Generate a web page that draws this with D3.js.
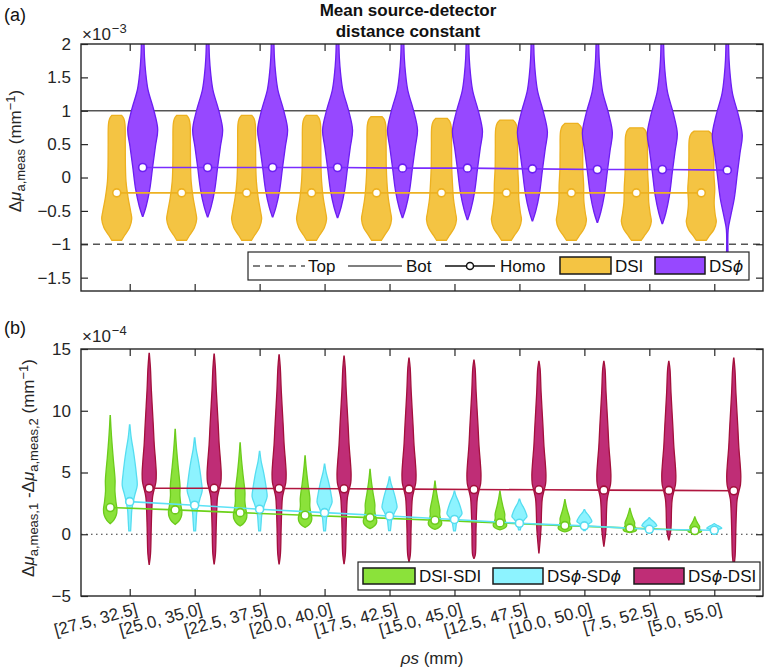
<!DOCTYPE html>
<html><head><meta charset="utf-8">
<script src="https://cdn.jsdelivr.net/npm/d3@7"></script>
<style>
body{margin:0;background:#fff;}
svg{display:block;font-family:"Liberation Sans",Arial,Helvetica,sans-serif;}
</style></head><body>
<svg id="chart" width="768" height="671"></svg>
<script>
// ---------------- DATA ----------------
const categories = ["[27.5, 32.5]","[25.0, 35.0]","[22.5, 37.5]","[20.0, 40.0]","[17.5, 42.5]",
                    "[15.0, 45.0]","[12.5, 47.5]","[10.0, 50.0]","[7.5, 52.5]","[5.0, 55.0]"];
const topTicks = [-1.5,-1,-0.5,0,0.5,1,1.5,2];      // x10^-3
const botTicks = [-5,0,5,10,15];                    // x10^-4
const topRef = 1, botRef = -1;                      // "Bot" solid / "Top" dashed

// Panel (a) — DSI (x10^-3 mm^-1)
const dsiLo   = [-0.94,-0.94,-0.94,-0.94,-0.94,-0.94,-0.94,-0.94,-0.94,-0.94];
const dsiHi   = [0.93,0.93,0.93,0.93,0.91,0.885,0.86,0.81,0.745,0.695];
const dsiMed  = [-0.23,-0.23,-0.23,-0.23,-0.23,-0.23,-0.23,-0.23,-0.23,-0.23];
const dsiBody = [1,1.02,1.05,1.08,1.12,1.18,1.3,1.32,1.3,1.45];
// Panel (a) — DSphi
const dspLo   = [-0.58,-0.59,-0.59,-0.6,-0.6,-0.63,-0.65,-0.67,-0.69,-0.73];
const dspHi   = [2.6,2.6,2.6,2.6,2.6,2.6,2.6,2.6,2.6,2.6];
const dspMed  = [0.15,0.15,0.15,0.15,0.14,0.14,0.13,0.12,0.12,0.11];
const dspTail = [null,null,null,null,null,null,null,null,null,-1.2];

// Panel (b) (x10^-4 mm^-1)
const grnLo  = [0.86,0.8,0.67,0.55,0.46,0.4,0.35,0.2,0.13,0.08];
const grnHi  = [9.6,8.5,7.4,6.35,5.25,4.3,3.5,2.8,2.1,1.4];
const grnMed = [2.16,1.97,1.75,1.54,1.35,1.13,0.92,0.7,0.5,0.3];
const cyaLo  = [0.27,0.27,0.27,0.27,0.3,0.27,0.35,0.3,0.2,0.2];
const cyaHi  = [8.85,7.8,6.7,5.67,4.64,3.5,2.85,2.0,1.35,0.86];
const cyaMed = [2.64,2.35,2.03,1.75,1.48,1.2,0.89,0.68,0.4,0.32];
const redLo  = [-2.43,-2.4,-2.4,-2.38,-2.2,-1.95,-1.5,-0.95,-0.46,-2.6];
const redHi  = [14.65,14.59,14.53,14.42,14.26,14.1,13.99,13.99,13.99,14.26];
const redMed = [3.73,3.72,3.7,3.68,3.65,3.62,3.6,3.57,3.55,3.52];

// Density shape templates: [relative position, relative density]
const dsiShape = [[0,.33],[.04,.53],[.1,.85],[.17,1],[.23,.93],[.34,.76],[.47,.62],[.6,.58],[.77,.57],[.93,.55],[.975,.47],[1,.33]];
const dspShape = [[0,.02],[.047,.23],[.126,.47],[.236,.67],[.33,.85],[.409,1],[.497,.75],[.597,.35],[.676,.2],[.748,.12],[.811,.09],[1,.04]];
const grnShape = [[0,0],[.03,.5],[.08,.9],[.13,1],[.2,.85],[.3,.7],[.4,.72],[.5,.6],[.6,.45],[.7,.32],[.8,.2],[.9,.1],[1,.02]];
const cyaShape = [[0,.12],[.1,.2],[.19,.27],[.25,.4],[.3,.55],[.35,.72],[.43,1],[.535,.89],[.65,.7],[.755,.49],[.88,.2],[1,.03]];
const redShape = [[-7,.02],[-6.2,.05],[-5.3,.19],[-3.2,.29],[-1.6,.38],[-0.7,.48],[0,.75],[0.5,.95],[1.2,1],[2.2,.9],[3.5,.72],[5.2,.57],[7.9,.31],[9.8,.17],[10.9,.06],[11.5,.02]];

// ---------------- STYLE ----------------
const C = {
  dsi:{fill:"#F4C443",stroke:"#EDB120",line:"#EDB120"},
  dsp:{fill:"#9748FF",stroke:"#6B1EF2",line:"#7A2CFF"},
  grn:{fill:"#8BE23A",stroke:"#6CCB1C",line:"#6CD21A"},
  cya:{fill:"#8DF3FF",stroke:"#55DDF0",line:"#5CE2F6"},
  red:{fill:"#BF2D76",stroke:"#A3103C",line:"#B0163F"}
};
const FONT = 17;
const svg = d3.select("#chart");
const L = 81, R = 763;
const x = d3.scaleLinear().domain([0.25,10.75]).range([L,R]);
const wScale = d3.scaleLinear().domain([0,1]).range([0,15]);
const idx = d3.range(1, categories.length+1);

const yA = d3.scaleLinear().domain([-1.7,2]).range([291,44]);
const yB = d3.scaleLinear().domain([-5,15]).range([596,349]);

function fmt(v){ return (v<0?"\u2212":"") + String(Math.abs(v)); }

function frame(y, top, bottom, clipId){
  const g = svg.append("g");
  svg.append("clipPath").attr("id",clipId).append("rect")
    .attr("x",L).attr("y",top).attr("width",R-L).attr("height",bottom-top);
  return g;
}

function axes(y, ticks, top, bottom, withLabels){
  const ax = svg.append("g").attr("class","axes");
  const left = d3.axisLeft(y).tickValues(ticks).tickSizeInner(-7).tickSizeOuter(0).tickPadding(10).tickFormat(fmt);
  const right = d3.axisRight(y).tickValues(ticks).tickSizeInner(-7).tickSizeOuter(0).tickFormat("");
  const topAx = d3.axisTop(x).tickValues(idx).tickSizeInner(-7).tickSizeOuter(0).tickFormat("");
  const botAx = d3.axisBottom(x).tickValues(idx).tickSizeInner(-7).tickSizeOuter(0)
      .tickFormat(withLabels ? (d=>categories[d-1]) : "");
  const gl = ax.append("g").attr("transform",`translate(${L},0)`).call(left);
  ax.append("g").attr("transform",`translate(${R},0)`).call(right);
  ax.append("g").attr("transform",`translate(0,${top})`).call(topAx);
  const gb = ax.append("g").attr("transform",`translate(0,${bottom})`).call(botAx);
  ax.selectAll(".domain").remove();
  ax.selectAll(".tick line").attr("stroke","#262626").attr("stroke-width",1.2);
  gl.selectAll("text").attr("font-size",FONT).attr("fill","#262626").attr("font-family","Liberation Sans, Arial, sans-serif");
  if(withLabels){
    gb.selectAll("text").attr("y",null).attr("dy",null)
      .attr("font-size",FONT).attr("fill","#262626").attr("font-family","Liberation Sans, Arial, sans-serif")
      .attr("text-anchor","end").attr("transform","translate(8,18) rotate(-15)");
  }
  ax.append("rect").attr("x",L).attr("y",top).attr("width",R-L).attr("height",bottom-top)
    .attr("fill","none").attr("stroke","#262626").attr("stroke-width",1.4);
}

function smooth(t,a,b){ const u=Math.max(0,Math.min(1,(t-a)/(b-a))); return u*u*(3-2*u); }

function normProfile(shape, lo, hi, peak, body){
  return shape.map(([t,w]) => {
    const f = body ? 1 + (body-1)*smooth(t,.28,.45) : 1;
    return {v: lo + t*(hi-lo), w: w*peak*f};
  });
}
function offsetProfile(shape, med, lo, hi, peak){
  const pts = [{v:lo, w:0.02*peak}];
  shape.forEach(([o,w]) => { const v = med+o; if(v>lo+0.15 && v<hi-0.15) pts.push({v, w:w*peak}); });
  pts.push({v:hi, w:0.02*peak});
  return pts;
}

function drawViolin(g, y, pts, cx, col, clipId){
  const area = d3.area().curve(d3.curveCatmullRom.alpha(0.5))
    .y(d=>y(d.v)).x0(d=>cx-wScale(d.w)).x1(d=>cx+wScale(d.w));
  g.append("path").attr("d",area(pts)).attr("fill",col.fill).attr("stroke",col.stroke)
    .attr("stroke-width",1.3).attr("clip-path",`url(#${clipId})`);
}

function drawMedians(g, y, meds, off, col){
  const line = d3.line().x((d,i)=>x(i+1+off)).y(d=>y(d));
  g.append("path").attr("d",line(meds)).attr("fill","none").attr("stroke",col.line).attr("stroke-width",1.6);
}
function drawDots(g, y, meds, off, col){
  g.selectAll(null).data(meds).enter().append("circle")
    .attr("cx",(d,i)=>x(i+1+off)).attr("cy",d=>y(d)).attr("r",4)
    .attr("fill","#fff").attr("stroke",col.stroke).attr("stroke-width",1.6);
}

// ---------------- PANEL A ----------------
const gA = frame(yA,44,291,"clipA");
gA.append("line").attr("x1",L).attr("x2",R).attr("y1",yA(topRef)).attr("y2",yA(topRef))
  .attr("stroke","#555").attr("stroke-width",1.5);
gA.append("line").attr("x1",L).attr("x2",R).attr("y1",yA(botRef)).attr("y2",yA(botRef))
  .attr("stroke","#555").attr("stroke-width",1.5).attr("stroke-dasharray","7,5");
idx.forEach((c,i)=>{
  drawViolin(gA, yA, normProfile(dsiShape, dsiLo[i], dsiHi[i], 1, dsiBody[i]), x(c-0.2), C.dsi, "clipA");
  let p = normProfile(dspShape, dspLo[i], dspHi[i], 1);
  if(dspTail[i]!==null){ p = [{v:dspTail[i],w:.06},{v:dspLo[i]-0.05,w:.06}].concat(p.slice(1)); }
  drawViolin(gA, yA, p, x(c+0.2), C.dsp, "clipA");
});
drawMedians(gA, yA, dsiMed, -0.2, C.dsi);
drawMedians(gA, yA, dspMed, 0.2, C.dsp);
drawDots(gA, yA, dsiMed, -0.2, C.dsi);
drawDots(gA, yA, dspMed, 0.2, C.dsp);
axes(yA, topTicks, 44, 291, false);

// ---------------- PANEL B ----------------
const gB = frame(yB,349,596,"clipB");
gB.append("line").attr("x1",L).attr("x2",R).attr("y1",yB(0)).attr("y2",yB(0))
  .attr("stroke","#333").attr("stroke-width",1.2).attr("stroke-dasharray","1.5,3.5");
idx.forEach((c,i)=>{
  drawViolin(gB, yB, normProfile(grnShape, grnLo[i], grnHi[i], 0.45), x(c-0.3), C.grn, "clipB");
  drawViolin(gB, yB, normProfile(cyaShape, cyaLo[i], cyaHi[i], 0.5), x(c), C.cya, "clipB");
  drawViolin(gB, yB, offsetProfile(redShape, redMed[i], redLo[i], redHi[i], 0.47), x(c+0.3), C.red, "clipB");
});
drawMedians(gB, yB, grnMed, -0.3, C.grn);
drawMedians(gB, yB, cyaMed, 0, C.cya);
drawMedians(gB, yB, redMed, 0.3, C.red);
drawDots(gB, yB, grnMed, -0.3, C.grn);
drawDots(gB, yB, cyaMed, 0, C.cya);
drawDots(gB, yB, redMed, 0.3, C.red);
axes(yB, botTicks, 349, 596, true);

// ---------------- TEXT ----------------
const T = svg.append("g").attr("fill","#111");
T.append("text").attr("x",4).attr("y",21).attr("font-size",18).text("(a)");
T.append("text").attr("x",4).attr("y",334).attr("font-size",18).text("(b)");
T.append("text").attr("x",408).attr("y",16).attr("font-size",17).attr("font-weight","bold").attr("text-anchor","middle").text("Mean source-detector");
T.append("text").attr("x",408).attr("y",36.5).attr("font-size",17).attr("font-weight","bold").attr("text-anchor","middle").text("distance constant");

function expo(xp, yp, e){
  const t = T.append("text").attr("x",xp).attr("y",yp).attr("font-size",FONT).attr("fill","#262626");
  t.append("tspan").text("\u00D710");
  t.append("tspan").attr("font-size",13).attr("dy",-7).attr("dx",1).text("\u2212"+e);
}
expo(82,40,"3");
expo(82,342,"4");

function ylab(xp, yp, parts){
  const t = T.append("text").attr("transform",`translate(${xp},${yp}) rotate(-90)`)
    .attr("text-anchor","middle").attr("font-size",FONT).attr("fill","#262626");
  parts.forEach(p=>{
    const s = t.append("tspan").text(p.t);
    if(p.fs) s.attr("font-size",p.fs);
    if(p.dy) s.attr("dy",p.dy);
    if(p.it) s.attr("font-style","italic");
  });
}
ylab(21,151,[{t:"\u0394"},{t:"\u03BC",it:1},{t:"a,meas",fs:13,dy:4},{t:"  (mm",dy:-4},{t:"\u22121",fs:13,dy:-6},{t:")",dy:6}]);
ylab(34,468,[{t:"\u0394"},{t:"\u03BC",it:1},{t:"a,meas,1",fs:13,dy:4},{t:" -\u0394",dy:-4},{t:"\u03BC",it:1},{t:"a,meas,2",fs:13,dy:4},{t:"  (mm",dy:-4},{t:"\u22121",fs:13,dy:-6},{t:")",dy:6}]);

const xl = T.append("text").attr("x",432).attr("y",664).attr("text-anchor","middle").attr("font-size",FONT).attr("fill","#262626");
xl.append("tspan").attr("font-style","italic").text("\u03C1s");
xl.append("tspan").text(" (mm)");

// ---------------- LEGENDS ----------------
const phi = "\u03D5";
function legText(g, xp, yp, parts){
  const t = g.append("text").attr("x",xp).attr("y",yp).attr("font-size",FONT).attr("fill","#111");
  parts.forEach(p=>{ const s=t.append("tspan").text(p.t); if(p.it) s.attr("font-style","italic").attr("font-family","DejaVu Sans, Liberation Sans, sans-serif").attr("font-size",16); });
}
const LA = svg.append("g");
LA.append("rect").attr("x",248).attr("y",252).attr("width",501).attr("height",28).attr("fill","#fff").attr("stroke","#262626").attr("stroke-width",1.2);
LA.append("line").attr("x1",253).attr("x2",305).attr("y1",266).attr("y2",266).attr("stroke","#555").attr("stroke-width",1.5).attr("stroke-dasharray","7,5");
legText(LA,308,272,[{t:"Top"}]);
LA.append("line").attr("x1",348).attr("x2",402).attr("y1",266).attr("y2",266).attr("stroke","#555").attr("stroke-width",1.5);
legText(LA,406,272,[{t:"Bot"}]);
LA.append("line").attr("x1",445).attr("x2",495).attr("y1",266).attr("y2",266).attr("stroke","#111").attr("stroke-width",1.5);
LA.append("circle").attr("cx",470).attr("cy",266).attr("r",3.5).attr("fill","#fff").attr("stroke","#111").attr("stroke-width",1.5);
legText(LA,500,272,[{t:"Homo"}]);
LA.append("rect").attr("x",560).attr("y",257).attr("width",51).attr("height",17).attr("fill",C.dsi.fill).attr("stroke","#1a1a1a").attr("stroke-width",1.5);
legText(LA,615,272,[{t:"DSI"}]);
LA.append("rect").attr("x",655).attr("y",257).attr("width",50).attr("height",17).attr("fill",C.dsp.fill).attr("stroke","#1a1a1a").attr("stroke-width",1.5);
legText(LA,709,272,[{t:"DS"},{t:phi,it:1}]);

const LB = svg.append("g");
LB.append("rect").attr("x",358).attr("y",562).attr("width",402).attr("height",28).attr("fill","#fff").attr("stroke","#262626").attr("stroke-width",1.2);
LB.append("rect").attr("x",363).attr("y",568).attr("width",52).attr("height",16).attr("fill",C.grn.fill).attr("stroke","#1a1a1a").attr("stroke-width",1.5);
legText(LB,419,582,[{t:"DSI-SDI"}]);
LB.append("rect").attr("x",493).attr("y",568).attr("width",50).attr("height",16).attr("fill",C.cya.fill).attr("stroke","#1a1a1a").attr("stroke-width",1.5);
legText(LB,547,582,[{t:"DS"},{t:phi,it:1},{t:"-SD"},{t:phi,it:1}]);
LB.append("rect").attr("x",634).attr("y",568).attr("width",50).attr("height",16).attr("fill",C.red.fill).attr("stroke","#1a1a1a").attr("stroke-width",1.5);
legText(LB,688,582,[{t:"DS"},{t:phi,it:1},{t:"-DSI"}]);
</script>
</body></html>
